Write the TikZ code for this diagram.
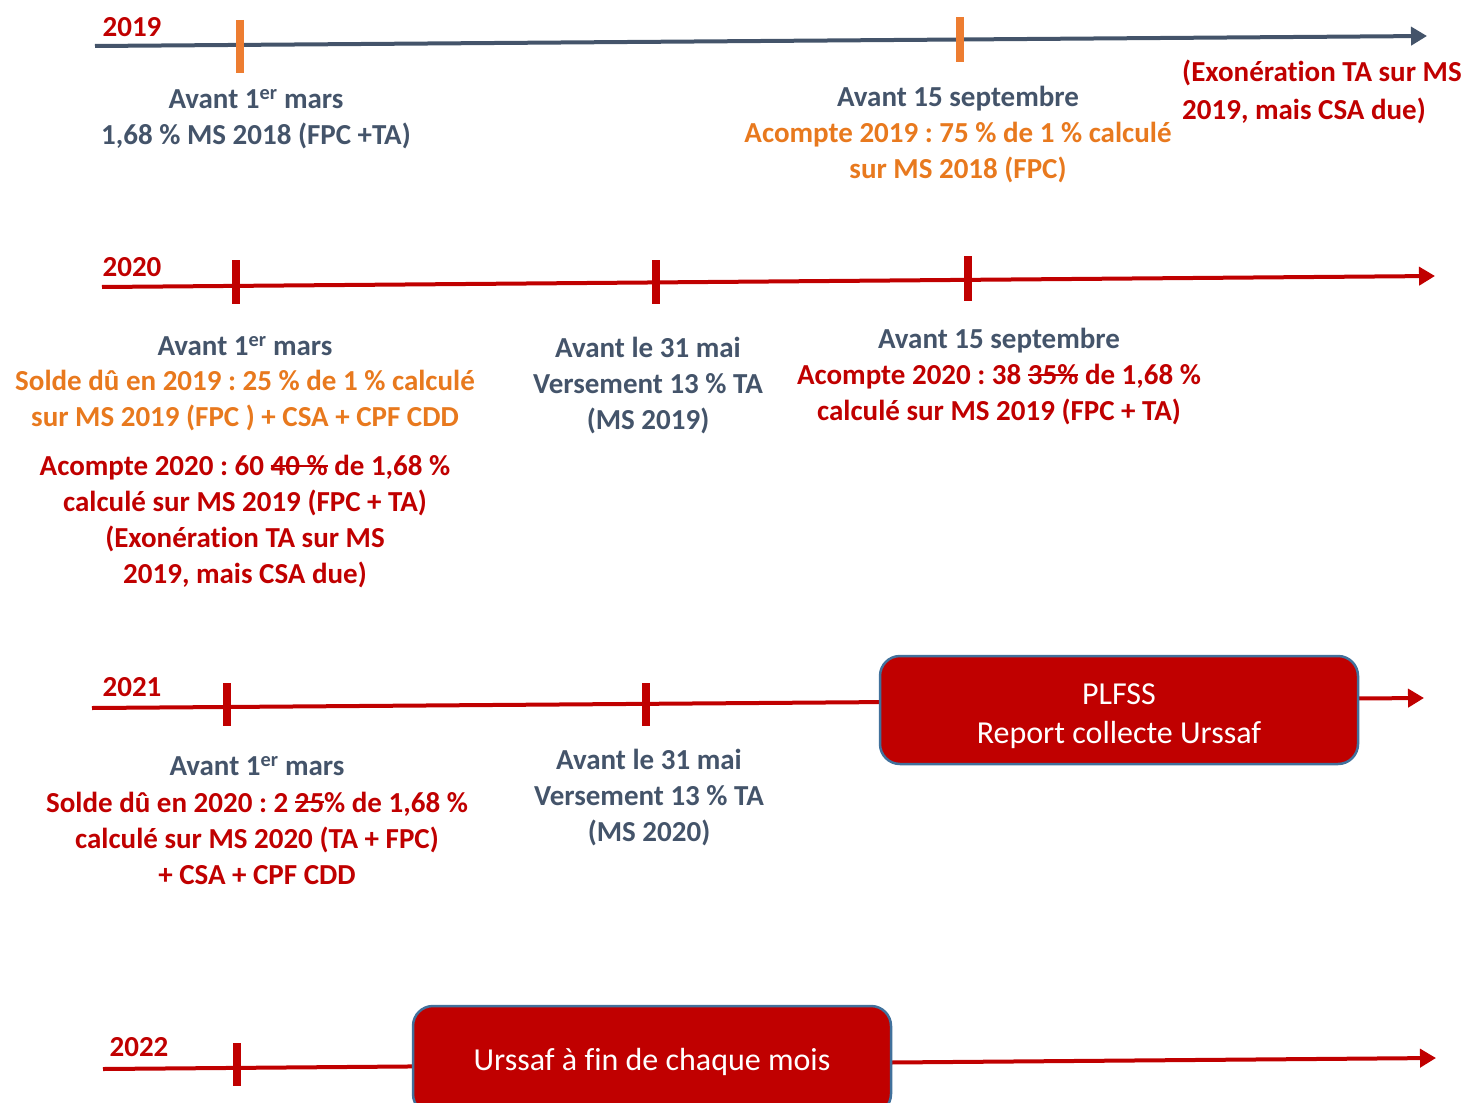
\documentclass[tikz,border=0pt]{standalone}
\usepackage{fontspec}
\setmainfont[RawFeature={-liga}]{Carlito}
\usetikzlibrary{arrows.meta}
\definecolor{slate}{HTML}{44546A}
\definecolor{orgtxt}{HTML}{E8791E}
\definecolor{orgtick}{HTML}{ED7D31}
\definecolor{dred}{HTML}{C00000}
\definecolor{boxedge}{HTML}{41719C}
\newsavebox\strkbox
\newcommand{\strk}[1]{\leavevmode\sbox\strkbox{#1}\rlap{\rule[0.3em]{\wd\strkbox}{2.2pt}}\usebox\strkbox}
\frenchspacing
\begin{document}
\begin{tikzpicture}[x=1pt,y=-1pt,
  txt/.style={font=\bfseries\fontsize{29}{36}\selectfont, align=center, inner sep=0pt},
  yearlbl/.style={font=\bfseries\fontsize{29}{34}\selectfont, text=dred, inner sep=0pt},
  axis/.style={line width=4pt, -{Triangle[length=16pt,width=18pt]}},
  tickmark/.style={line width=8pt},
  bigbox/.style={fill=dred, draw=boxedge, line width=2.5pt, rounded corners=20pt, text=white,
    font=\fontsize{32}{39}\selectfont, align=center, minimum width=478pt, inner sep=0pt}
]
\useasboundingbox (0,0) rectangle (1471,1102);

% ---------- 2019 ----------
\coordinate (s19) at (95,46);
\coordinate (e19) at (1427,36);
\draw[axis, slate] (s19) -- (e19);
\coordinate (k19a1) at (240,20); \coordinate (k19a2) at (240,73);
\coordinate (k19b1) at (960,17); \coordinate (k19b2) at (960,62);
\draw[tickmark, orgtick] (k19a1) -- (k19a2);
\draw[tickmark, orgtick] (k19b1) -- (k19b2);
\node[yearlbl] (y19) at (132,27) {2019};
\node[txt, text=slate] (a19) at (256,119) {Avant 1\textsuperscript{er} mars\\1,68 \% MS 2018 (FPC +TA)};
\node[txt, text=slate] (b19a) at (958,99) {Avant 15 septembre};
\node[txt, text=orgtxt] (b19b) at (958,153) {Acompte 2019 : 75 \% de 1 \% calculé\\sur MS 2018 (FPC)};
\node[txt, text=dred, align=left, anchor=west, font=\bfseries\fontsize{29}{38}\selectfont] (c19) at (1182,92) {(Exonération TA sur MS\\2019, mais CSA due)};

% ---------- 2020 ----------
\coordinate (s20) at (102,287);
\coordinate (e20) at (1435,276);
\draw[axis, dred] (s20) -- (e20);
\coordinate (k20a1) at (236,260); \coordinate (k20a2) at (236,304);
\coordinate (k20b1) at (656,260); \coordinate (k20b2) at (656,304);
\coordinate (k20c1) at (968,256); \coordinate (k20c2) at (968,301);
\draw[tickmark, dred] (k20a1) -- (k20a2);
\draw[tickmark, dred] (k20b1) -- (k20b2);
\draw[tickmark, dred] (k20c1) -- (k20c2);
\node[yearlbl] (y20) at (132,267) {2020};
\node[txt, text=slate] (a20a) at (245,346) {Avant 1\textsuperscript{er} mars};
\node[txt, text=orgtxt] (a20b) at (245,401) {Solde dû en 2019 : 25 \% de 1 \% calculé\\sur MS 2019 (FPC ) + CSA + CPF CDD};
\node[txt, text=dred] (a20c) at (245,522) {Acompte 2020 : 60 \strk{40 \%} de 1,68 \%\\calculé sur MS 2019 (FPC + TA)\\(Exonération TA sur MS\\2019, mais CSA due)};
\node[txt, text=slate] (m20) at (648,386) {Avant le 31 mai\\Versement 13 \% TA\\(MS 2019)};
\node[txt, text=slate] (s20a) at (999,341) {Avant 15 septembre};
\node[txt, text=dred] (s20b) at (999,395) {Acompte 2020 : 38 \strk{35\%} de 1,68 \%\\calculé sur MS 2019 (FPC + TA)};

% ---------- 2021 ----------
\coordinate (s21) at (92,708);
\coordinate (e21) at (1424,698);
\draw[axis, dred] (s21) -- (e21);
\coordinate (k21a1) at (227,683); \coordinate (k21a2) at (227,726);
\coordinate (k21b1) at (646,683); \coordinate (k21b2) at (646,726);
\draw[tickmark, dred] (k21a1) -- (k21a2);
\draw[tickmark, dred] (k21b1) -- (k21b2);
\node[yearlbl] (y21) at (132,687) {2021};
\node[txt, text=slate] (a21a) at (257,766) {Avant 1\textsuperscript{er} mars};
\node[txt, text=dred] (a21b) at (257,838) {Solde dû en 2020 : 2 \strk{25}\% de 1,68 \%\\calculé sur MS 2020 (TA + FPC)\\+ CSA + CPF CDD};
\node[txt, text=slate] (m21) at (649,798) {Avant le 31 mai\\Versement 13 \% TA\\(MS 2020)};
\node[bigbox, minimum height=108pt] (box21) at (1119,710) {\rule{0pt}{33pt}PLFSS\\Report collecte Urssaf};

% ---------- 2022 ----------
\coordinate (s22) at (103,1069);
\coordinate (e22) at (1436,1058);
\draw[axis, dred] (s22) -- (e22);
\coordinate (k22a1) at (237,1043); \coordinate (k22a2) at (237,1086);
\draw[tickmark, dred] (k22a1) -- (k22a2);
\node[yearlbl] (y22) at (139,1047) {2022};
\node[bigbox, minimum height=108pt] (box22) at (652,1060) {\rule{0pt}{26pt}Urssaf à fin de chaque mois};
\end{tikzpicture}
\end{document}
